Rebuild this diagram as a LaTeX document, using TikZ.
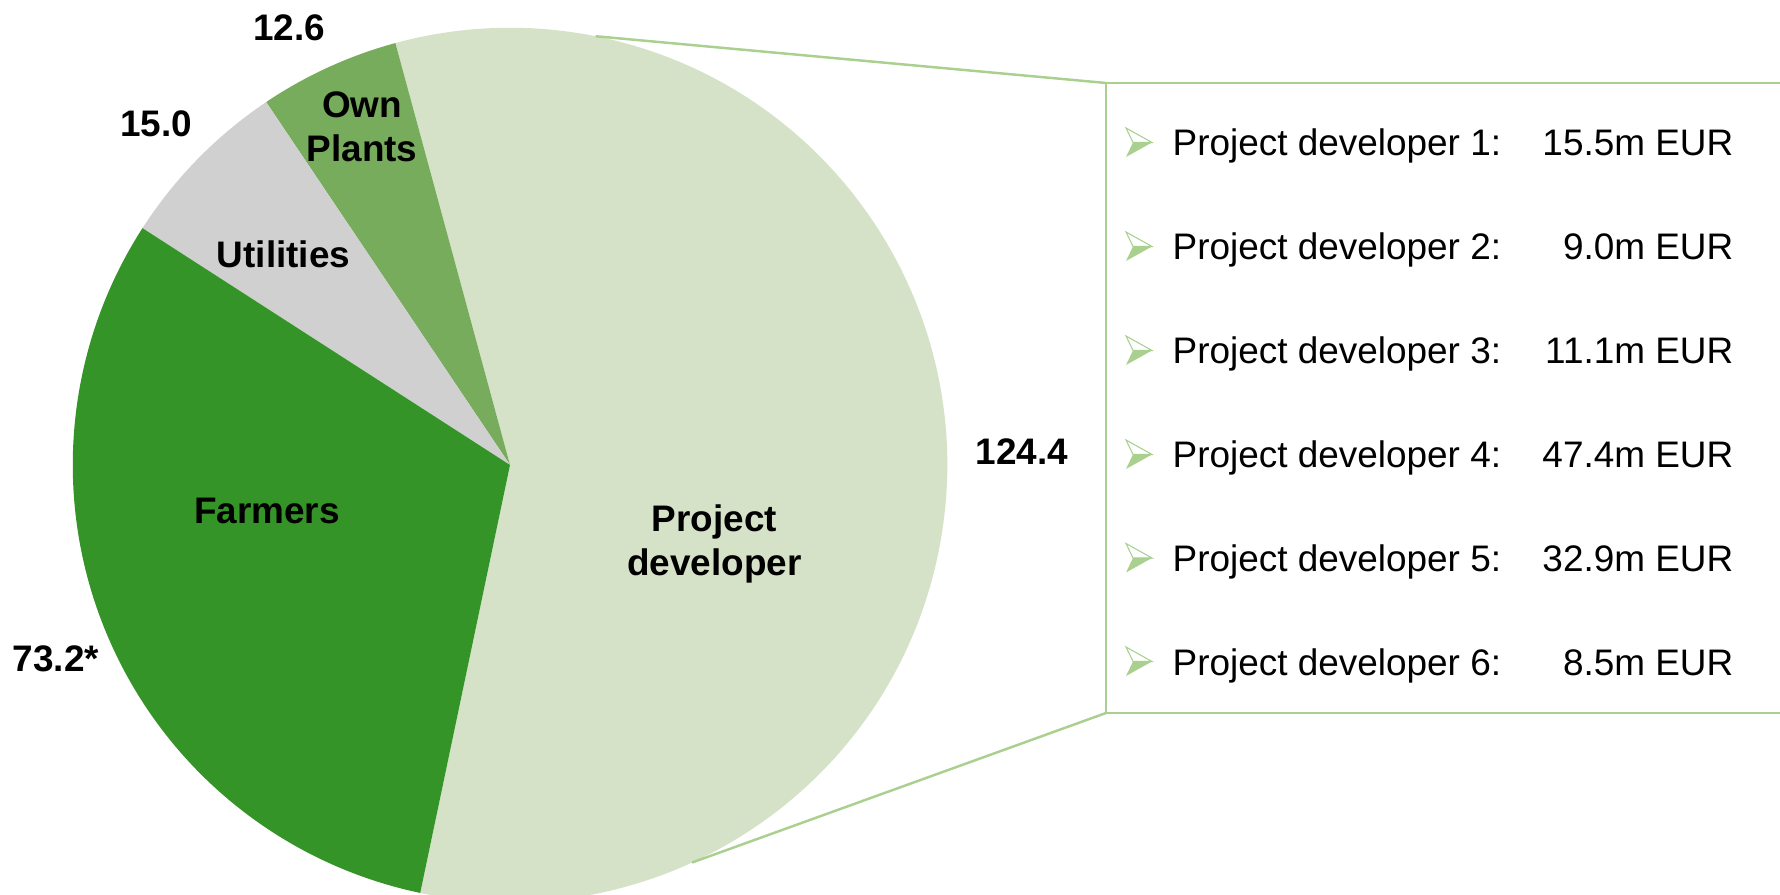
\documentclass[tikz,border=0pt]{standalone}
\usepackage{fontspec}
\setmainfont{Liberation Sans}
\usetikzlibrary{positioning}
\definecolor{farm}{RGB}{53,148,39}
\definecolor{own}{RGB}{119,172,92}
\definecolor{util}{RGB}{208,208,208}
\definecolor{dev}{RGB}{213,226,199}
\definecolor{lgreen}{RGB}{169,208,142}

\begin{document}
\begin{tikzpicture}[x=0.01cm, y=0.01cm, font=\fontsize{10.5}{12.5}\selectfont,
		lbl/.style={font=\fontsize{10.5}{12.5}\selectfont\bfseries, anchor=base, inner sep=0pt},
		two/.style={font=\fontsize{10.5}{12.5}\selectfont\bfseries, align=center, inner sep=0pt},
		row/.style={anchor=base west, inner sep=0pt},
		val/.style={anchor=base east, inner sep=0pt},
		ln/.style={draw=lgreen, line width=0.7pt},
		arr/.pic={
			\fill[white, draw=lgreen, line width=0.3pt] (0,14.5) -- (26,0) -- (7,0) -- cycle;
			\fill[lgreen] (7,0) -- (26,0) -- (0,-14.5) -- cycle;
		}]
		\useasboundingbox (0,0) rectangle (1780,894);

		\coordinate (c) at (510,429);
		\fill[dev] (c) -- ++(-101.85:4.37cm) arc[start angle=-101.85, end angle=105.2, radius=4.37cm] -- cycle;
		\fill[own] (c) -- ++(105.2:4.37cm) arc[start angle=105.2, end angle=123.9, radius=4.37cm] -- cycle;
		\fill[util] (c) -- ++(123.9:4.37cm) arc[start angle=123.9, end angle=147.2, radius=4.37cm] -- cycle;
		\fill[farm] (c) -- ++(147.2:4.37cm) arc[start angle=147.2, end angle=258.15, radius=4.37cm] -- cycle;

		\path (c) ++(78.7:4.37cm) coordinate (p1);
		\path (c) ++(-65.4:4.37cm) coordinate (p2);
		\coordinate (tl) at (1106,811);
		\coordinate (bl) at (1106,181);
		\coordinate (tr) at (1790,811);
		\coordinate (br) at (1790,181);

		\path[ln] (p1) edge (tl);
		\path[ln] (p2) edge (bl);
		\draw[ln] (tr) -- (tl) -- (bl) -- (br);

		\node[lbl] (n1) at (289,853) {12.6};
		\node[lbl] (n2) at (156,757) {15.0};
		\node[lbl] (n3) at (56,223) {73.2*};
		\node[lbl] (n4) at (1022,429) {124.4};
		\node[two] (own) at (362,767.5) {Own\\Plants};
		\node[lbl] (util) at (283.5,626) {Utilities};
		\node[lbl] (farm) at (267,370) {Farmers};
		\node[two] (dev) at (714.5,350.5) {Project\\developer};

		\node[row] (r1) at (1172,738) {Project developer 1:};
		\node[row] (r2) at (1172,634) {Project developer 2:};
		\node[row] (r3) at (1172,530) {Project developer 3:};
		\node[row] (r4) at (1172,426) {Project developer 4:};
		\node[row] (r5) at (1172,322.5) {Project developer 5:};
		\node[row] (r6) at (1172,219) {Project developer 6:};

		\node[val] (v1) at (1734,738) {15.5m EUR};
		\node[val] (v2) at (1734,634) {9.0m EUR};
		\node[val] (v3) at (1734,530) {11.1m EUR};
		\node[val] (v4) at (1734,426) {47.4m EUR};
		\node[val] (v5) at (1734,322.5) {32.9m EUR};
		\node[val] (v6) at (1734,219) {8.5m EUR};

		\pic at (1126,751.5) {arr};
		\pic at (1126,647.5) {arr};
		\pic at (1126,543.5) {arr};
		\pic at (1126,439.5) {arr};
		\pic at (1126,336) {arr};
		\pic at (1126,232.5) {arr};
	\end{tikzpicture}
\end{document}
